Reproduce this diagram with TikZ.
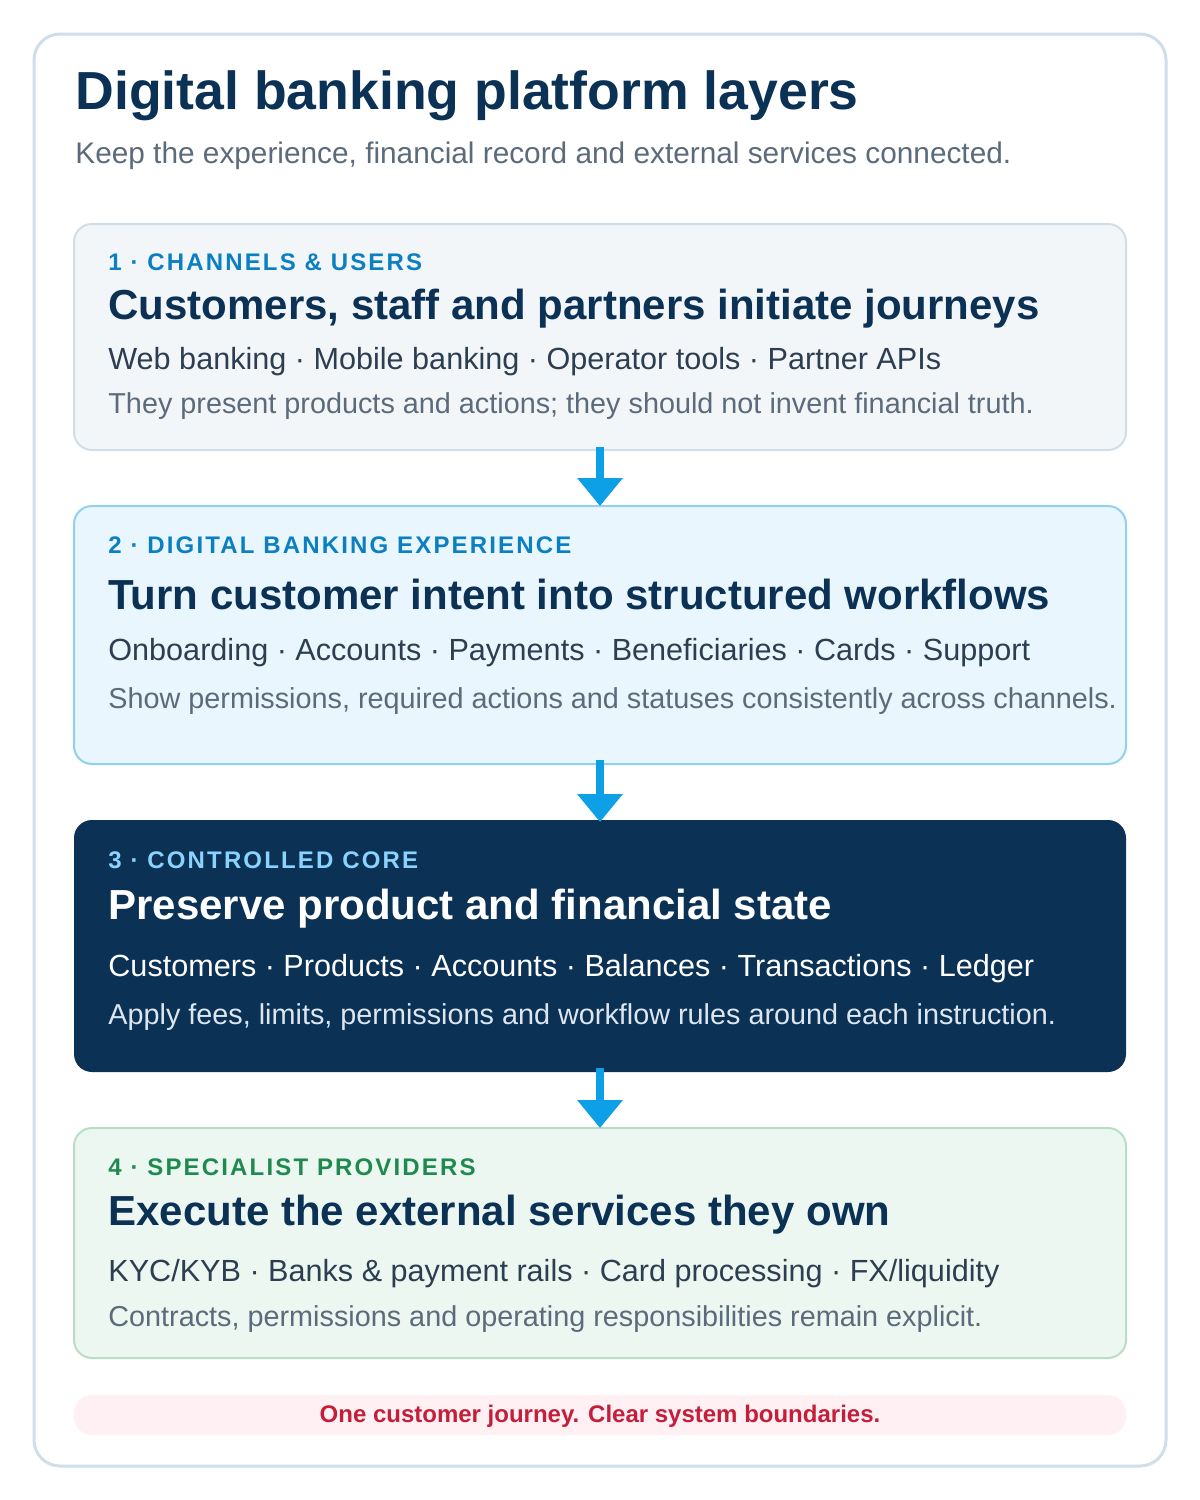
\documentclass[tikz,border=0pt]{standalone}
\usepackage{fontspec}
\setmainfont{Liberation Sans}
\newfontfamily\lbl[LetterSpace=9]{Liberation Sans}
\usetikzlibrary{arrows.meta}
\definecolor{frame}{HTML}{D0DEEA}
\definecolor{navy}{HTML}{0B3155}
\definecolor{gray1}{HTML}{5B6B7B}
\definecolor{ink}{HTML}{2D3E50}
\definecolor{blue1}{HTML}{0A7FC2}
\definecolor{arr}{HTML}{0EA0E6}
\definecolor{f1}{HTML}{F3F6F9}
\definecolor{f2}{HTML}{EAF6FD}
\definecolor{s2}{HTML}{90D0F0}
\definecolor{l3}{HTML}{8AD3FF}
\definecolor{n3}{HTML}{DCE6F0}
\definecolor{f4}{HTML}{EDF7F1}
\definecolor{s4}{HTML}{B8DEC6}
\definecolor{l4}{HTML}{1E8A4F}
\definecolor{ff}{HTML}{FFF1F3}
\definecolor{tf}{HTML}{C41E3A}
\begin{document}
\begin{tikzpicture}[x=0.5pt,y=-0.5pt,
  box/.style={rounded corners=9pt,line width=1pt},
  t/.style={anchor=west,inner sep=0pt},
  lab/.style={t,font=\lbl\bfseries\fontsize{12}{14}\selectfont},
  head/.style={t,font=\bfseries\fontsize{21}{25}\selectfont,text=navy},
  item/.style={t,font=\fontsize{15.3}{18}\selectfont,text=ink},
  note/.style={t,font=\fontsize{14.4}{17}\selectfont,text=gray1},
  ar/.style={draw=arr,line width=4pt,-{Triangle[length=14pt,width=22pt]}}]
\useasboundingbox (0,0) rectangle (1200,1500);
\fill[white] (0,0) rectangle (1200,1500);
\draw[frame,line width=1.5pt,rounded corners=13pt] (34,34) rectangle (1166,1466);
\node[t,font=\bfseries\fontsize{26.8}{31}\selectfont,text=navy] (title) at (75,96) {Digital banking platform layers};
\node[t,font=\fontsize{14.9}{18}\selectfont,text=gray1] (sub) at (75,156) {Keep the experience, financial record and external services connected.};
% box1
\draw[box,fill=f1,draw=frame] (74,224) rectangle (1126,450);
\coordinate (b1) at (600,447);
\node[lab,text=blue1] at (108,262) {1 · CHANNELS \& USERS};
\node[head] at (108,309) {Customers, staff and partners initiate journeys};
\node[item] at (108,362) {Web banking · Mobile banking · Operator tools · Partner APIs};
\node[note] at (108,406) {They present products and actions; they should not invent financial truth.};
% box2
\draw[box,fill=f2,draw=s2] (74,506) rectangle (1126,764);
\coordinate (b2t) at (600,506); \coordinate (b2) at (600,760);
\node[lab,text=blue1] at (108,545) {2 · DIGITAL BANKING EXPERIENCE};
\node[head] at (108,594) {Turn customer intent into structured workflows};
\node[item] at (108,653) {Onboarding · Accounts · Payments · Beneficiaries · Cards · Support};
\node[note] at (108,701) {Show permissions, required actions and statuses consistently across channels.};
% box3
\fill[rounded corners=9pt,navy] (74,820) rectangle (1126,1072);
\coordinate (b3t) at (600,822); \coordinate (b3) at (600,1068);
\node[lab,text=l3] at (108,860) {3 · CONTROLLED CORE};
\node[head,text=white] at (108,909) {Preserve product and financial state};
\node[item,text=white] at (108,969) {Customers · Products · Accounts · Balances · Transactions · Ledger};
\node[note,text=n3] at (108,1017) {Apply fees, limits, permissions and workflow rules around each instruction.};
% box4
\draw[box,fill=f4,draw=s4] (74,1128) rectangle (1126,1358);
\coordinate (b4t) at (600,1128);
\node[lab,text=l4] at (108,1167) {4 · SPECIALIST PROVIDERS};
\node[head] at (108,1215) {Execute the external services they own};
\node[item] at (108,1274) {KYC/KYB · Banks \& payment rails · Card processing · FX/liquidity};
\node[note] at (108,1319) {Contracts, permissions and operating responsibilities remain explicit.};
% arrows
\draw[ar] (b1) -- (b2t);
\draw[ar] (b2) -- (b3t);
\draw[ar] (b3) -- (b4t);
% footer
\fill[rounded corners=9pt,ff] (74,1395) rectangle (1126,1435);
\node[inner sep=0pt,font=\bfseries\fontsize{12}{14}\selectfont,text=tf] (foot) at (600,1416) {One customer journey. Clear system boundaries.};
\end{tikzpicture}
\end{document}
